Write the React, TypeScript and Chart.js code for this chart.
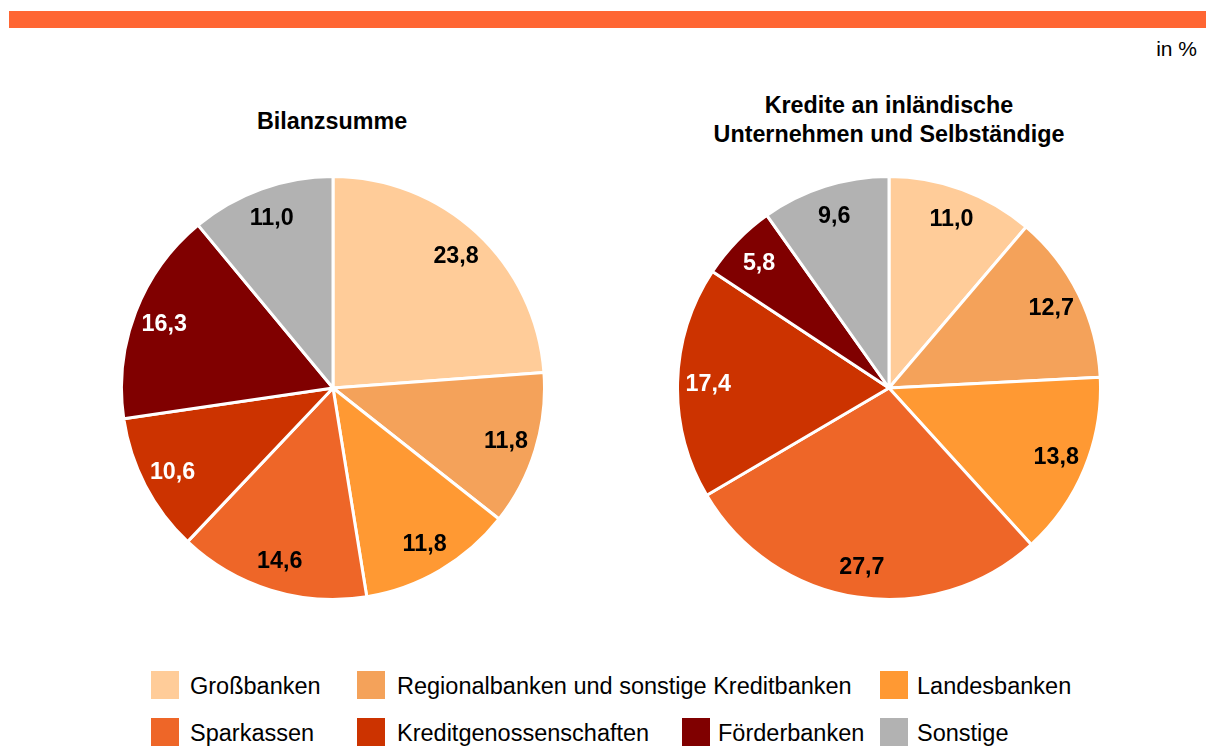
import React, { useEffect, useRef } from "react";
import { Chart, registerables } from "chart.js";

Chart.register(...registerables);

const categories = [
  "Großbanken",
  "Regionalbanken und sonstige Kreditbanken",
  "Landesbanken",
  "Sparkassen",
  "Kreditgenossenschaften",
  "Förderbanken",
  "Sonstige",
];
const colors = ["#FFCC99", "#F4A25A", "#FF9933", "#EE6628", "#CC3300", "#800000", "#B2B2B2"];
const labelColors = ["#000", "#000", "#000", "#000", "#fff", "#fff", "#000"];
const bilanzsumme = [23.8, 11.8, 11.8, 14.6, 10.6, 16.3, 11.0];
const kredite = [11.0, 12.7, 13.8, 27.7, 17.4, 5.8, 9.6];
const titleLeft = ["Bilanzsumme"];
const titleRight = ["Kredite an inländische", "Unternehmen und Selbständige"];
const unitLabel = "in %";

const FONT = '"Liberation Sans", Arial, sans-serif';

const labelPlugin = {
  id: "sliceLabels",
  afterDatasetsDraw(chart: any) {
    const ctx = chart.ctx;
    const meta = chart.getDatasetMeta(0);
    const data = chart.data.datasets[0].data as number[];
    ctx.save();
    ctx.font = `bold 23.3px ${FONT}`;
    ctx.textAlign = "center";
    ctx.textBaseline = "middle";
    meta.data.forEach((arc: any, i: number) => {
      const p = arc.getProps(["startAngle", "endAngle", "outerRadius", "x", "y"], true);
      const mid = (p.startAngle + p.endAngle) / 2;
      const r = p.outerRadius * 0.855;
      const x = p.x + Math.cos(mid) * r;
      const y = p.y + Math.sin(mid) * r;
      ctx.fillStyle = labelColors[i];
      ctx.fillText(data[i].toFixed(1).replace(".", ","), x, y + 1);
    });
    ctx.restore();
  },
};

function PieChart({ values, left, top }: { values: number[]; left: number; top: number }) {
  const ref = useRef<HTMLCanvasElement | null>(null);
  useEffect(() => {
    if (!ref.current) return;
    const chart = new Chart(ref.current, {
      type: "pie",
      data: {
        labels: categories,
        datasets: [
          {
            data: values,
            backgroundColor: colors,
            borderColor: "#ffffff",
            borderWidth: 3,
          },
        ],
      },
      options: {
        animation: false,
        responsive: false,
        maintainAspectRatio: false,
        layout: { padding: 0 },
        plugins: {
          legend: { display: false },
          tooltip: { enabled: false },
          title: { display: false },
        },
      },
      plugins: [labelPlugin],
    });
    return () => chart.destroy();
  }, [values]);
  return (
    <canvas
      ref={ref}
      width={426}
      height={426}
      style={{ position: "absolute", left, top, width: 426, height: 426 }}
    />
  );
}

export default function App() {
  const legendRows: { idx: number; sq: number; tx: number; row: number }[] = [
    { idx: 0, sq: 151, tx: 190, row: 0 },
    { idx: 1, sq: 357, tx: 397, row: 0 },
    { idx: 2, sq: 880, tx: 917, row: 0 },
    { idx: 3, sq: 151, tx: 190, row: 1 },
    { idx: 4, sq: 357, tx: 397, row: 1 },
    { idx: 5, sq: 682, tx: 718, row: 1 },
    { idx: 6, sq: 880, tx: 917, row: 1 },
  ];
  const rowSqTop = [671, 718];
  const rowTxTop = [672, 719];
  return (
    <div
      style={{
        position: "absolute",
        left: 0,
        top: 0,
        width: 1206,
        height: 746,
        overflow: "hidden",
        background: "#fff",
        fontFamily: FONT,
        color: "#000",
      }}
    >
      <div style={{ position: "absolute", left: 9, top: 11, width: 1197, height: 17, background: "#FF6633" }} />
      <div
        style={{
          position: "absolute",
          right: 9,
          top: 35,
          fontSize: 21,
          lineHeight: "28px",
          whiteSpace: "nowrap",
        }}
      >
        {unitLabel}
      </div>
      <div
        style={{
          position: "absolute",
          left: 132,
          width: 400,
          top: 106.6,
          textAlign: "center",
          fontWeight: "bold",
          fontSize: 23.3,
          lineHeight: "29.4px",
        }}
      >
        {titleLeft.map((t) => (
          <div key={t}>{t}</div>
        ))}
      </div>
      <div
        style={{
          position: "absolute",
          left: 689,
          width: 400,
          top: 90.6,
          textAlign: "center",
          fontWeight: "bold",
          fontSize: 23.3,
          lineHeight: "29.4px",
          whiteSpace: "nowrap",
        }}
      >
        {titleRight.map((t) => (
          <div key={t}>{t}</div>
        ))}
      </div>
      <PieChart values={bilanzsumme} left={119.7} top={175} />
      <PieChart values={kredite} left={675.5} top={175} />
      {legendRows.map((l) => (
        <React.Fragment key={l.idx}>
          <div
            style={{
              position: "absolute",
              left: l.sq,
              top: rowSqTop[l.row],
              width: 28,
              height: 28,
              background: colors[l.idx],
            }}
          />
          <div
            style={{
              position: "absolute",
              left: l.tx,
              top: rowTxTop[l.row],
              fontSize: 23.5,
              lineHeight: "28px",
              whiteSpace: "nowrap",
            }}
          >
            {categories[l.idx]}
          </div>
        </React.Fragment>
      ))}
    </div>
  );
}
